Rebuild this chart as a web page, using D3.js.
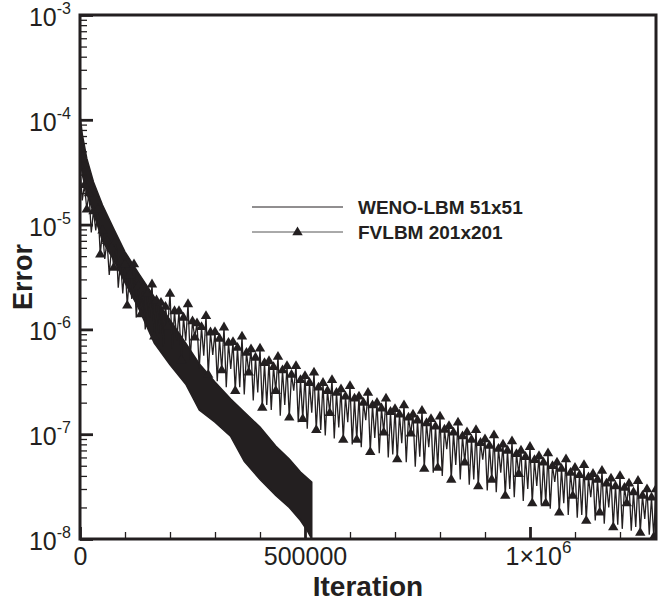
<!DOCTYPE html>
<html>
<head>
<meta charset="UTF-8">
<script src="https://d3js.org/d3.v7.min.js"></script>
<style>
body { margin: 0; background: #fff; }
text { font-family: "Liberation Sans", Arial, Helvetica, sans-serif; fill: #231f20; }
</style>
<title>Error vs Iteration</title>
</head>
<body>
<div id="chart"></div>
<script>
// ---- data ----
var seriesNames = ["WENO-LBM 51x51", "FVLBM 201x201"];

// WENO-LBM 51x51: dense oscillation, kept as upper / lower envelope of the band
var wenoIter = [0, 5000, 15000, 30000, 50000, 75000, 100000, 130000, 165000, 200000, 235000,
  265000, 300000, 335000, 365000, 400000, 435000, 465000, 490000, 505000, 515000];
var wenoHigh = [1.11e-4, 7.3e-5, 4.3e-5, 2.55e-5, 1.54e-5, 9.1e-6, 5.5e-6, 3.45e-6, 2.04e-6, 1.23e-6, 7.4e-7,
  4.7e-7, 3.15e-7, 2.17e-7, 1.63e-7, 1.17e-7, 7.7e-8, 5.8e-8, 4.36e-8, 3.82e-8, 3.5e-8];
var wenoLow = [4.6e-5, 3.0e-5, 2.0e-5, 1.3e-5, 7.0e-6, 4.6e-6, 2.8e-6, 1.6e-6, 7.4e-7, 4.6e-7, 3.0e-7,
  1.7e-7, 1.3e-7, 9.5e-8, 5.5e-8, 3.7e-8, 2.6e-8, 2.0e-8, 1.5e-8, 1.2e-8, 1.0e-8];

// FVLBM 201x201: peaks every 10000 iterations, troughs halfway between
var fvStep = 10000;
var fvPeak = [
  3.7e-5, 2.4e-5, 2.0e-5, 1.35e-5, 1.4e-5, 8.8e-6, 7.0e-6, 6.0e-6, 7.0e-6, 4.5e-6,
  4.2e-6, 3.3e-6, 4.2e-6, 2.6e-6, 2.5e-6, 2.2e-6, 2.7e-6, 1.9e-6, 1.8e-6, 1.65e-6,
  2.2e-6, 1.5e-6, 1.5e-6, 1.3e-6, 1.75e-6, 1.2e-6, 1.15e-6, 1.06e-6, 1.35e-6, 9.4e-7,
  9.5e-7, 8.2e-7, 1.05e-6, 7.5e-7, 7.6e-7, 6.7e-7, 8.6e-7, 6.0e-7, 6.5e-7, 5.4e-7,
  6.6e-7, 4.8e-7, 5.0e-7, 4.4e-7, 5.5e-7, 4.1e-7, 4.5e-7, 3.7e-7, 4.5e-7, 3.3e-7,
  3.6e-7, 3.1e-7, 3.9e-7, 2.8e-7, 3.1e-7, 2.6e-7, 3.3e-7, 2.5e-7, 2.7e-7, 2.3e-7,
  2.9e-7, 2.2e-7, 2.3e-7, 2.0e-7, 2.5e-7, 1.9e-7, 2.0e-7, 1.77e-7, 2.2e-7, 1.64e-7,
  1.75e-7, 1.55e-7, 1.9e-7, 1.45e-7, 1.55e-7, 1.36e-7, 1.68e-7, 1.28e-7, 1.4e-7, 1.19e-7,
  1.48e-7, 1.11e-7, 1.2e-7, 1.04e-7, 1.3e-7, 9.6e-8, 1.05e-7, 8.9e-8, 1.1e-7, 8.3e-8,
  9.0e-8, 7.8e-8, 9.8e-8, 7.3e-8, 8.0e-8, 7.0e-8, 8.6e-8, 6.5e-8, 7.0e-8, 6.1e-8,
  7.6e-8, 5.7e-8, 6.2e-8, 5.4e-8, 6.6e-8, 5.0e-8, 5.4e-8, 4.7e-8, 5.8e-8, 4.3e-8,
  4.8e-8, 4.1e-8, 5.1e-8, 3.9e-8, 4.2e-8, 3.7e-8, 4.5e-8, 3.4e-8, 3.8e-8, 3.2e-8,
  4.0e-8, 3.1e-8, 3.4e-8, 2.8e-8, 3.6e-8, 2.6e-8, 3.0e-8, 2.5e-8, 3.0e-8];
var fvTrough = [
  1.7e-5, 1.4e-5, 8.4e-6, 8.8e-6, 5.2e-6, 4.7e-6, 3.3e-6, 3.9e-6, 2.5e-6, 2.2e-6,
  1.7e-6, 1.95e-6, 1.3e-6, 1.4e-6, 1.0e-6, 1.3e-6, 8.6e-7, 9.2e-7, 6.9e-7, 1.07e-6,
  6.6e-7, 7.9e-7, 5.1e-7, 7.8e-7, 5.2e-7, 8.4e-7, 4.2e-7, 5.6e-7, 3.7e-7, 5.7e-7,
  3.2e-7, 4.1e-7, 2.8e-7, 4.2e-7, 2.6e-7, 2.8e-7, 2.4e-7, 3.9e-7, 2.1e-7, 2.5e-7,
  1.8e-7, 1.9e-7, 1.7e-7, 2.6e-7, 1.5e-7, 1.9e-7, 1.45e-7, 2.6e-7, 1.3e-7, 1.4e-7,
  1.13e-7, 1.6e-7, 1.1e-7, 1.1e-7, 9.7e-8, 1.6e-7, 9.1e-8, 1.16e-7, 8.9e-8, 1.3e-7,
  8.0e-8, 8.9e-8, 7.5e-8, 1.36e-7, 6.8e-8, 9.2e-8, 6.6e-8, 1.04e-7, 6.0e-8, 6.4e-8,
  5.8e-8, 8.2e-8, 5.4e-8, 1.02e-7, 4.9e-8, 6.1e-8, 4.7e-8, 7.5e-8, 4.3e-8, 4.8e-8,
  4.0e-8, 7.2e-8, 3.7e-8, 5.1e-8, 3.7e-8, 5.4e-8, 3.3e-8, 3.7e-8, 3.2e-8, 5.7e-8,
  2.9e-8, 3.7e-8, 2.8e-8, 4.3e-8, 2.6e-8, 3.0e-8, 2.5e-8, 4.2e-8, 2.3e-8, 3.0e-8,
  2.2e-8, 3.2e-8, 2.1e-8, 2.2e-8, 1.95e-8, 3.5e-8, 1.8e-8, 2.2e-8, 1.7e-8, 2.6e-8,
  1.6e-8, 1.7e-8, 1.5e-8, 2.5e-8, 1.5e-8, 1.8e-8, 1.4e-8, 2.0e-8, 1.3e-8, 1.37e-8,
  1.25e-8, 2.2e-8, 1.2e-8, 1.3e-8, 1.15e-8, 1.55e-8, 1.1e-8, 1.05e-8];

var xMajor = [0, 500000, 1000000];
var xMinor = [100000, 200000, 300000, 400000, 600000, 700000, 800000, 900000, 1100000, 1200000];
var yMajor = [1e-3, 1e-4, 1e-5, 1e-6, 1e-7, 1e-8];

// ---- layout ----
var W = 665, H = 608;
var margin = {top: 15, right: 9, bottom: 69, left: 80};
var width = W - margin.left - margin.right,
    height = H - margin.top - margin.bottom;
var ink = "#231f20";

var x = d3.scaleLinear().domain([0, 1280000]).range([0, width]);
var y = d3.scaleLog().domain([1e-8, 1e-3]).range([height, 0]);

var svg = d3.select("#chart").append("svg")
    .attr("width", W).attr("height", H)
  .append("g")
    .attr("transform", "translate(" + margin.left + "," + margin.top + ")");

svg.append("defs").append("clipPath").attr("id", "plotclip")
  .append("rect").attr("width", width).attr("height", height);

// minor y ticks: 2..9 in every decade
var yMinor = [];
yMajor.slice(1).forEach(function(d) {
  for (var m = 2; m <= 9; m++) yMinor.push(d * m);
});

// ---- data ----
var plot = svg.append("g").attr("clip-path", "url(#plotclip)");

var wenoData = wenoIter.map(function(it, i) { return {it: it, hi: wenoHigh[i], lo: wenoLow[i]}; });
var band = d3.area()
    .x(function(d) { return x(d.it); })
    .y0(function(d) { return y(d.lo); })
    .y1(function(d) { return y(d.hi); });
plot.append("path")
    .datum(wenoData)
    .attr("d", band)
    .attr("fill", ink)
    .attr("stroke", ink)
    .attr("stroke-width", 1.5);

var fvData = [];
fvPeak.forEach(function(v, k) {
  fvData.push({it: k * fvStep, err: v});
  if (k < fvTrough.length) fvData.push({it: k * fvStep + fvStep / 2, err: fvTrough[k]});
});

var line = d3.line()
    .x(function(d) { return x(d.it); })
    .y(function(d) { return y(d.err); });
plot.append("path")
    .datum(fvData)
    .attr("d", line)
    .attr("fill", "none")
    .attr("stroke", ink)
    .attr("stroke-width", 1.3);

// symbols on every peak and on every third trough
var tri = "M0,-5.6L5.2,3.2L-5.2,3.2Z";
plot.selectAll(".mark")
    .data(fvData.filter(function(d, i) { return i % 2 === 0 || i % 6 === 3; }))
  .enter().append("path")
    .attr("class", "mark")
    .attr("d", tri)
    .attr("fill", ink)
    .attr("transform", function(d) { return "translate(" + x(d.it) + "," + y(d.err) + ")"; });

// ---- axes ----
var yAxisMinor = svg.append("g")
    .call(d3.axisLeft(y).tickValues(yMinor).tickSize(-7).tickFormat(""));
yAxisMinor.selectAll("line").attr("stroke", ink).attr("stroke-width", 1.3);

var yAxis = svg.append("g")
    .call(d3.axisLeft(y).tickValues(yMajor).tickSize(-13).tickPadding(9)
      .tickFormat(function(d) { return ""; }));
yAxis.selectAll("line").attr("stroke", ink).attr("stroke-width", 2.8);
yAxis.selectAll(".tick text")
    .attr("font-size", "25px")
    .attr("dy", "0.42em")
    .each(function(d) {
      var t = d3.select(this);
      t.append("tspan").text("10");
      t.append("tspan").attr("font-size", "16px").attr("dy", "-12")
        .text(String(Math.round(Math.log10(d))));
    });

var xAxisMinor = svg.append("g")
    .attr("transform", "translate(0," + height + ")")
    .call(d3.axisBottom(x).tickValues(xMinor).tickSize(-7).tickFormat(""));
xAxisMinor.selectAll("line").attr("stroke", ink).attr("stroke-width", 1.3);

var xAxis = svg.append("g")
    .attr("transform", "translate(0," + height + ")")
    .call(d3.axisBottom(x).tickValues(xMajor).tickSize(-12).tickPadding(8).tickFormat(""));
xAxis.selectAll("line").attr("stroke", ink).attr("stroke-width", 2.8);
xAxis.selectAll(".tick text")
    .attr("font-size", "25px")
    .each(function(d) {
      var t = d3.select(this);
      if (d >= 1000000) {
        t.attr("dx", "8");
        t.append("tspan").text("1\u00d710");
        t.append("tspan").attr("font-size", "17px").attr("dy", "-0.7em").text("6");
      } else {
        t.text(d3.format("d")(d));
      }
    });

svg.selectAll(".domain").remove();
svg.selectAll(".tick text").attr("fill", ink);

// frame
svg.append("rect")
    .attr("width", width).attr("height", height)
    .attr("fill", "none")
    .attr("stroke", ink)
    .attr("stroke-width", 3);

// axis titles
svg.append("text")
    .attr("x", width / 2).attr("y", height + 57)
    .attr("text-anchor", "middle")
    .attr("font-size", "28px").attr("font-weight", "bold")
    .text("Iteration");

svg.append("text")
    .attr("transform", "translate(" + (-48) + "," + (height / 2) + ") rotate(-90)")
    .attr("text-anchor", "middle")
    .attr("font-size", "27px").attr("font-weight", "bold")
    .text("Error");

// ---- legend ----
var legend = svg.append("g").attr("transform", "translate(172,192)");
seriesNames.forEach(function(name, i) {
  var g = legend.append("g").attr("transform", "translate(0," + (i * 25) + ")");
  g.append("line")
      .attr("x1", 0).attr("x2", 91)
      .attr("stroke", i === 0 ? ink : "#555").attr("stroke-width", 1);
  if (i === 1) {
    g.append("path").attr("d", tri).attr("fill", ink)
        .attr("transform", "translate(45.5,0)");
  }
  g.append("text")
      .attr("x", 106).attr("y", 7)
      .attr("font-size", "19px").attr("font-weight", "bold")
      .text(name);
});
</script>
</body>
</html>
